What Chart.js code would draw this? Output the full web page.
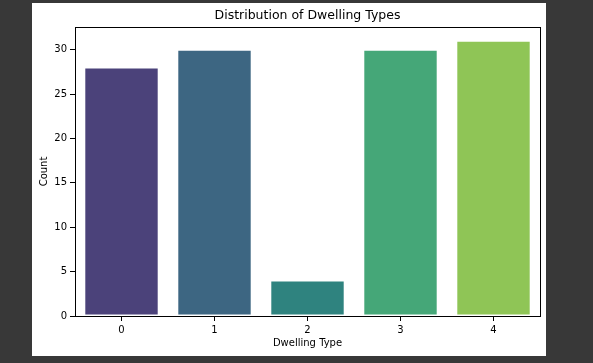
<!DOCTYPE html>
<html>
<head>
<meta charset="utf-8">
<script src="https://cdn.jsdelivr.net/npm/chart.js@4"></script>
<style>
  html, body { margin: 0; padding: 0; background: #383838; }
  body { width: 593px; height: 363px; position: relative; overflow: hidden; }
  .fig { position: absolute; left: 32px; top: 3px; width: 514px; height: 353px; background: #fff; }
</style>
</head>
<body>
<div class="fig"><canvas id="chart" width="514" height="353"></canvas></div>
<script>
  const dwellingTypes = ['0', '1', '2', '3', '4'];
  const counts = [28, 30, 4, 30, 31];
  const barColors = ['#4b427a', '#3d6682', '#2f837f', '#45a778', '#8fc556'];
  const yTicks = [0, 5, 10, 15, 20, 25, 30];

  const font = 'DejaVu Sans';

  // matplotlib-style box around the axes + centred title
  const frame = {
    id: 'frame',
    afterDraw(chart) {
      const { ctx, chartArea: a } = chart;
      ctx.save();
      ctx.strokeStyle = '#000';
      ctx.lineWidth = 1;
      ctx.strokeRect(a.left + 0.5, a.top + 0.5, a.right - a.left, a.bottom - a.top);
      ctx.fillStyle = '#000';
      ctx.font = '12.5px "' + font + '"';
      ctx.textAlign = 'center';
      ctx.textBaseline = 'middle';
      ctx.fillText('Distribution of Dwelling Types', (a.left + a.right) / 2, 12.5);
      ctx.restore();
    }
  };

  new Chart(document.getElementById('chart'), {
    type: 'bar',
    data: {
      labels: dwellingTypes,
      datasets: [{
        data: counts,
        backgroundColor: barColors,
        borderColor: 'rgba(255,255,255,0.85)',
        borderWidth: 1,
        borderSkipped: false,
        categoryPercentage: 0.8,
        barPercentage: 1
      }]
    },
    options: {
      responsive: false,
      animation: false,
      layout: { padding: { left: 0, right: 6, top: 24, bottom: 0 } },
      plugins: {
        legend: { display: false },
        title: { display: false },
        tooltip: { enabled: false }
      },
      scales: {
        x: {
          grid: { offset: false, drawOnChartArea: false, drawTicks: true, tickLength: 5, tickColor: '#000' },
          border: { display: false },
          ticks: { color: '#000', padding: 3, font: { family: font, size: 10 } },
          title: { display: true, text: 'Dwelling Type', color: '#000', font: { family: font, size: 10 }, padding: { top: 0, bottom: 7 } },
          afterFit(scale) { scale.height = 40; }
        },
        y: {
          min: 0,
          max: 32.55,
          grid: { drawOnChartArea: false, drawTicks: true, tickLength: 5, tickColor: '#000' },
          border: { display: false },
          ticks: { color: '#000', padding: 3, font: { family: font, size: 10 } },
          afterBuildTicks(scale) { scale.ticks = yTicks.map(v => ({ value: v })); },
          title: { display: true, text: 'Count', color: '#000', font: { family: font, size: 10 }, padding: { top: 6, bottom: 0 } },
          afterFit(scale) { scale.width = 43; }
        }
      }
    },
    plugins: [frame]
  });
</script>
</body>
</html>
